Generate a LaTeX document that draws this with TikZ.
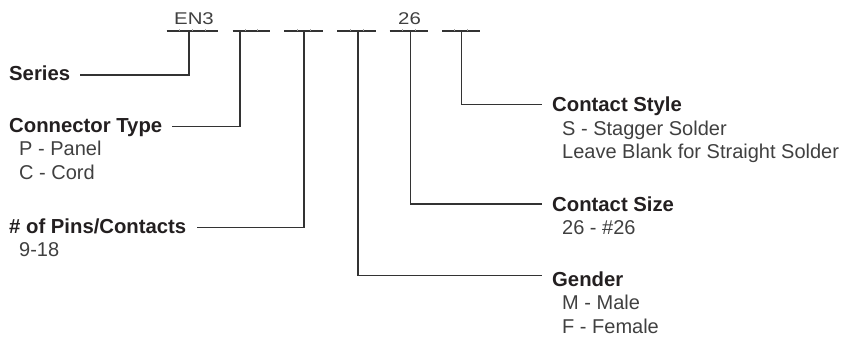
\documentclass[tikz,border=0pt]{standalone}
\usepackage{fontspec}
\setmainfont{Liberation Sans}
\newfontfamily\widefont[FakeStretch=1.2]{Liberation Sans}
\definecolor{ink}{HTML}{231F20}
\definecolor{soft}{HTML}{404040}
\definecolor{wire}{HTML}{333333}
\tikzset{
  head/.style={anchor=base west, inner sep=0pt, font=\fontsize{20.3}{23}\selectfont\bfseries, text=ink},
  sub/.style={anchor=base west, inner sep=0pt, font=\fontsize{20}{23}\selectfont, text=soft},
  code/.style={anchor=base, inner sep=0pt, font=\fontsize{17}{19}\selectfont\widefont, text=soft},
  wireline/.style={draw=wire, line width=1.2pt},
  slotline/.style={draw=wire, line width=1.2pt},
  tick/.style={draw=gray!70, line width=0.6pt}
}
\begin{document}
\begin{tikzpicture}[x=1pt,y=-1pt]
\useasboundingbox (0,0) rectangle (844,339);
% code characters
\node[code] (en3) at (194,25) {EN3};
\node[code] (c26) at (409.5,25) {26};
% underline slots
\foreach \a/\b/\n in {166.7/218.3/4, 232.7/270/3, 284/323/3, 337/376/3, 389.5/428/3, 442/480/3}{
  \draw[slotline] (\a,31) -- (\b,31);
  \pgfmathsetmacro{\w}{(\b-\a)/\n}
  \pgfmathtruncatemacro{\m}{\n-1}
  \foreach \k in {1,...,\m}{
    \draw[tick] ({\a+\k*\w},31) -- ({\a+\k*\w},28.8);
  }
}
% slot tap points
\coordinate (s1) at (189,31);
\coordinate (s2) at (240,31);
\coordinate (s3) at (304,31);
\coordinate (s4) at (358,31);
\coordinate (s5) at (410.7,31);
\coordinate (s6) at (461.7,31);
% left labels
\node[head] (series) at (9,81) {Series};
\node[head] (ctype) at (9,132.7) {Connector Type};
\node[sub] (ctp) at (19,156) {P - Panel};
\node[sub] (ctc) at (19,180) {C - Cord};
\node[head] (pins) at (9,233.3) {\# of Pins/Contacts};
\node[sub] (pinsv) at (19,256.7) {9-18};
% right labels
\node[head] (cstyle) at (552,111.5) {Contact Style};
\node[sub] (cs1) at (562,135.3) {S - Stagger Solder};
\node[sub] (cs2) at (562,159) {Leave Blank for Straight Solder};
\node[head] (csize) at (552,211.5) {Contact Size};
\node[sub] (csz) at (562,235) {26 - \#26};
\node[head] (gender) at (552,286.5) {Gender};
\node[sub] (gm) at (562,310) {M - Male};
\node[sub] (gf) at (562,334) {F - Female};
% connector ends
\coordinate (e1) at (80,75);
\coordinate (e2) at (172,126.7);
\coordinate (e3) at (197,227.7);
\coordinate (e4) at (541.7,275.7);
\coordinate (e5) at (541.7,204);
\coordinate (e6) at (541.7,104.3);
% connectors
\draw[wireline] (s1) |- (e1);
\draw[wireline] (s2) |- (e2);
\draw[wireline] (s3) |- (e3);
\draw[wireline] (s4) |- (e4);
\draw[wireline] (s5) |- (e5);
\draw[wireline] (s6) |- (e6);
\end{tikzpicture}
\end{document}
